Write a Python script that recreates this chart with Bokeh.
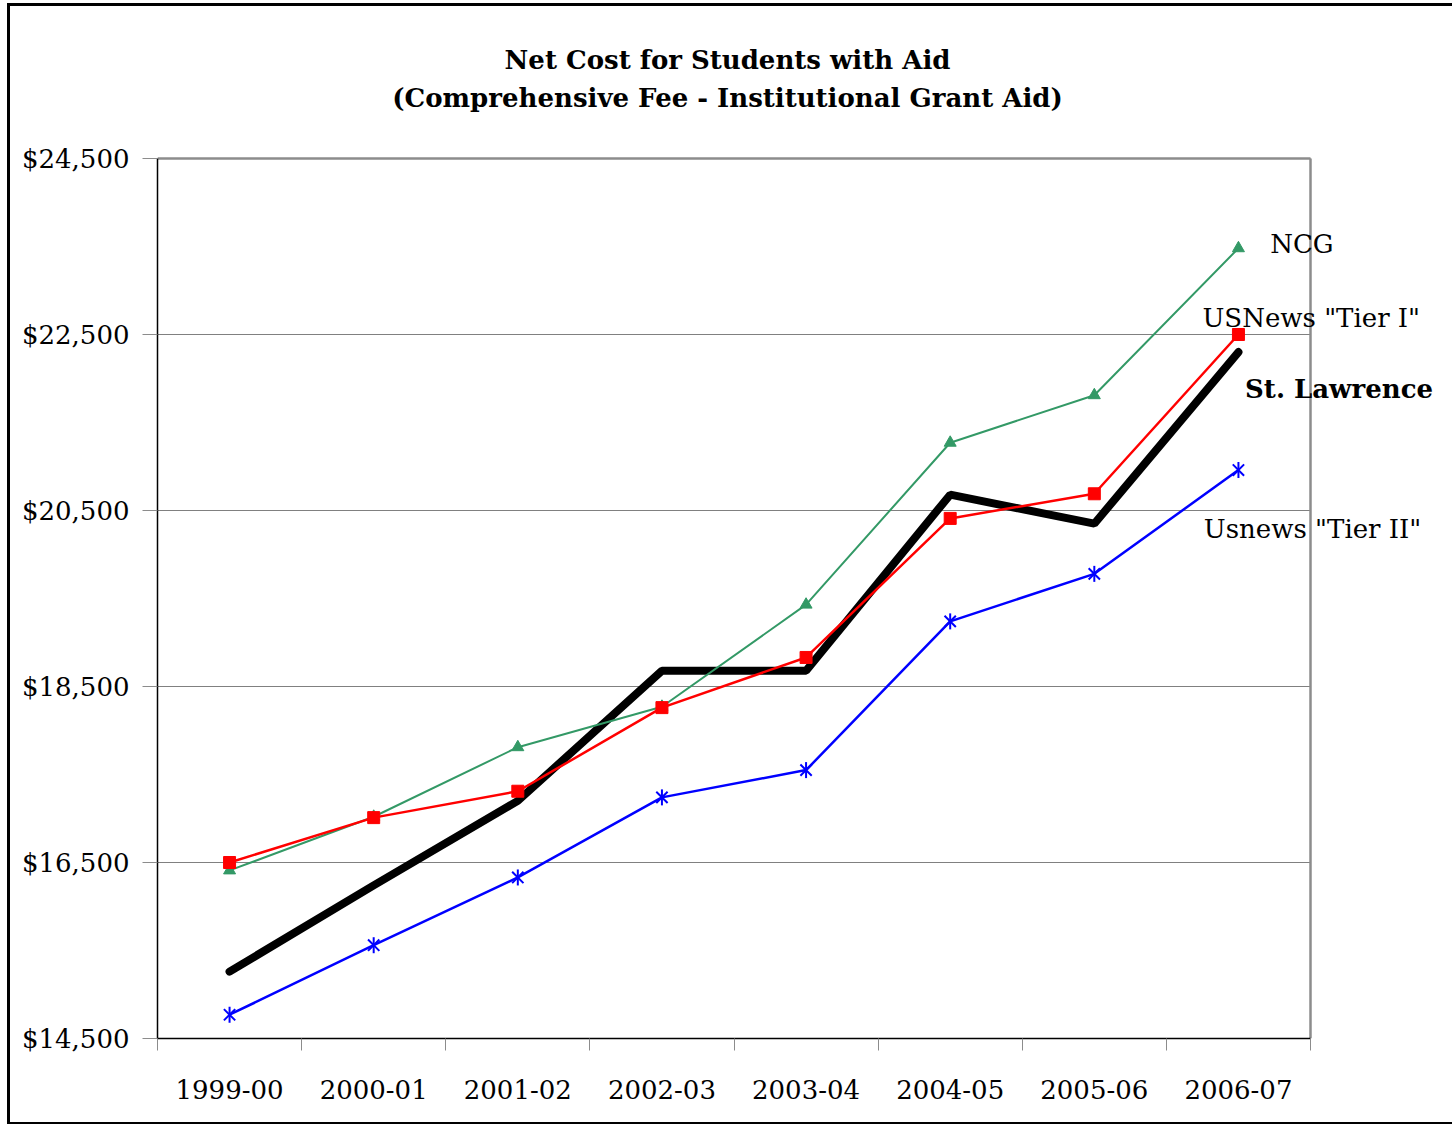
import math
from bokeh.plotting import figure
from bokeh.models import FixedTicker, NumeralTickFormatter, Label, Range1d, Grid
from bokeh.embed import file_html
from bokeh.resources import INLINE

# ---- data ----
years = ["1999-00", "2000-01", "2001-02", "2002-03", "2003-04", "2004-05", "2005-06", "2006-07"]
st_lawrence = [15260, 16240, 17200, 18680, 18680, 20680, 20350, 22300]
usnews_tier1 = [16500, 17010, 17310, 18260, 18830, 20410, 20690, 22500]
ncg = [16410, 17020, 17810, 18270, 19430, 21270, 21810, 23480]
usnews_tier2 = [14770, 15560, 16330, 17240, 17550, 19240, 19780, 20960]
y_ticks = [14500, 16500, 18500, 20500, 22500, 24500]
title_lines = ["Net Cost for Students with Aid", "(Comprehensive Fee - Institutional Grant Aid)"]

FONT = "DejaVu Serif"
FS = "26px"
GRAY = "#8c8c8c"

n = len(years)
xs = [i + 0.5 for i in range(n)]
y0, y1 = y_ticks[0], y_ticks[-1]

# The frame is widened to the right and upward so that the series names and the
# title (which lie outside the plot area) are not clipped. The visible plot area
# is x in [0, n], y in [y0, y1]; its border, grid and axes are bounded to it.
PLOT_W, FRAME_W = 1153, 1287      # px
PLOT_H, FRAME_H = 880, 1030       # px
x_end = n * FRAME_W / PLOT_W
y_end = y0 + (y1 - y0) * FRAME_H / PLOT_H

p = figure(width=1442, height=1116,
           x_range=Range1d(0, x_end), y_range=Range1d(y0, y_end),
           output_backend="svg", toolbar_location=None, title=None,
           min_border_left=147, min_border_right=8, min_border_top=2, min_border_bottom=84)
p.styles = {"outline": "3px solid black", "margin-left": "10px", "margin-top": "6px"}
p.background_fill_color = "white"
p.border_fill_color = "white"
p.outline_line_color = None

# x axis: labels at centres, ticks at category boundaries
p.xaxis.ticker = FixedTicker(ticks=xs, minor_ticks=list(range(n + 1)))
p.xaxis.bounds = (0, n)
p.xaxis.major_label_overrides = {x: y for x, y in zip(xs, years)}
p.xaxis.major_tick_out = 0
p.xaxis.major_tick_in = 0
p.xaxis.minor_tick_out = 12
p.xaxis.minor_tick_in = 0
p.xaxis.minor_tick_line_color = GRAY
p.xaxis.axis_line_color = "black"
p.xaxis.axis_line_width = 1.5
p.xaxis.major_label_standoff = 29
p.xaxis.major_label_text_font = FONT
p.xaxis.major_label_text_font_size = FS
p.xaxis.major_label_text_color = "black"

# y axis
p.yaxis.ticker = FixedTicker(ticks=y_ticks)
p.yaxis.bounds = (y0, y1)
p.yaxis.formatter = NumeralTickFormatter(format="$0,0")
p.yaxis.major_tick_out = 15
p.yaxis.major_tick_in = 0
p.yaxis.minor_tick_line_color = None
p.yaxis.major_tick_line_color = GRAY
p.yaxis.axis_line_color = "black"
p.yaxis.axis_line_width = 1.5
p.yaxis.major_label_standoff = 13
p.yaxis.major_label_text_font = FONT
p.yaxis.major_label_text_font_size = FS
p.yaxis.major_label_text_color = "black"

p.xgrid.visible = False
p.ygrid.grid_line_color = "#808080"
p.ygrid.grid_line_width = 1
p.ygrid.cross_bounds = (0, n)

# plot-area border (top and right), grey
p.add_layout(Grid(dimension=1, ticker=FixedTicker(ticks=[y1]), cross_bounds=(0, n),
                  grid_line_color=GRAY, grid_line_width=2.5))
p.add_layout(Grid(dimension=0, ticker=FixedTicker(ticks=[n]), cross_bounds=(y0, y1),
                  grid_line_color=GRAY, grid_line_width=2.5))

# series
p.line(xs, st_lawrence, line_color="black", line_width=8, line_cap="round")
p.line(xs, usnews_tier2, line_color="#0000FF", line_width=2.5)
p.scatter(xs, usnews_tier2, marker="x", size=16, line_color="#0000FF", line_width=2)
p.scatter(xs, usnews_tier2, marker="dash", angle=math.pi / 2, size=16, line_color="#0000FF", line_width=2)
p.line(xs, ncg, line_color="#339966", line_width=2)
p.scatter(xs, ncg, marker="triangle", size=12, fill_color="#339966", line_color="#339966")
p.line(xs, usnews_tier1, line_color="#FF0000", line_width=2.5)
p.scatter(xs, usnews_tier1, marker="square", size=12, fill_color="#FF0000", line_color="#FF0000")

# series names
labels = [
    ("NCG", 7.72, 23523, "left", "normal"),
    ('USNews "Tier I"', 7.25, 22693, "left", "normal"),
    ("St. Lawrence", 8.85, 21886, "right", "bold"),
    ('Usnews "Tier II"', 7.26, 20295, "left", "normal"),
]
for t, lx, ly, al, st in labels:
    p.add_layout(Label(x=lx, y=ly, text=t, text_align=al, text_baseline="middle",
                       text_font=FONT, text_font_size=FS, text_font_style=st, text_color="black"))

# title (two lines)
for t, ty in zip(title_lines, [25614, 25182]):
    p.add_layout(Label(x=3.955, y=ty, text=t, text_align="center", text_baseline="middle",
                       text_font=FONT, text_font_size=FS, text_font_style="bold", text_color="black"))

open("out.html", "w").write(file_html(p, INLINE))
